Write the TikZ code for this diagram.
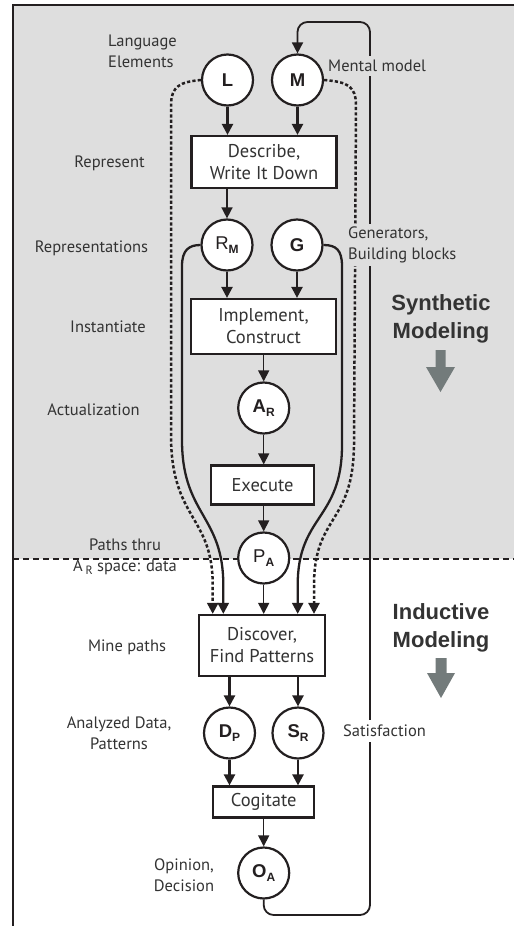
\documentclass[tikz,border=0pt]{standalone}
\usepackage{fontspec}
\setmainfont{PT Sans}
\newfontfamily\hvfont{Liberation Sans}
\usetikzlibrary{arrows.meta}
\definecolor{bggray}{HTML}{DEDEDE}
\definecolor{ink}{HTML}{231F20}
\definecolor{txt}{HTML}{333333}
\definecolor{arrgray}{HTML}{737B7B}
\newcommand\mysub[1]{\raisebox{-3.5pt}{\fontsize{12}{12}\selectfont\bfseries #1}}
\begin{document}
\begin{tikzpicture}[x=1pt,y=-1pt,
  circ/.style={circle, draw=ink, line width=2.2pt, fill=white, minimum size=51pt, inner sep=0pt,
    font=\hvfont\bfseries\fontsize{18.5}{18.5}\selectfont, text=ink},
  boxn/.style={rectangle, draw=ink, line width=2.2pt, fill=white, inner sep=0pt, align=center,
    font=\fontsize{18.5}{22}\selectfont, text=txt},
  lbl/.style={font=\fontsize{16.5}{21}\selectfont, text=txt, inner sep=1pt},
  bglbl/.style={lbl, fill=bggray, inner xsep=1pt, inner ysep=4pt},
  tip/.style={-{Triangle[length=11pt,width=11pt]}},
  thk/.style={draw=ink, line width=2.3pt, tip},
  thn/.style={draw=ink, line width=1.5pt, tip},
  dsh/.style={draw=ink, line width=2.5pt, dash pattern=on 3.2pt off 2.2pt, tip},
  title/.style={font=\hvfont\bfseries\fontsize{22}{28}\selectfont, text=txt, align=center},
]
\useasboundingbox (0,0) rectangle (514,926);
% background
\fill[bggray] (13,5) rectangle (514,559);
\draw[ink, line width=1.3pt, dash pattern=on 6pt off 4pt] (13,559) -- (514,559);
\draw[ink, line width=2.4pt] (514,5) -- (13,5) -- (13,926);

% nodes
\node[circ] (L) at (227.5,80) {L};
\node[circ] (M) at (297.5,80) {M};
\node[boxn, minimum width=145pt, minimum height=52pt] (D) at (264,162) {Describe,\\Write It Down};
\node[circ] (RM) at (227,245) {\mdseries R\mysub{M}};
\node[circ] (G) at (297,245) {G};
\node[boxn, minimum width=145pt, minimum height=55pt] (I) at (263.5,326.5) {Implement,\\Construct};
\node[circ] (AR) at (263.7,408) {A\mysub{R}};
\node[boxn, minimum width=103pt, minimum height=39pt] (E) at (262.5,485) {Execute};
\node[circ] (PA) at (263.7,558) {\mdseries P\mysub{A}};
\node[boxn, minimum width=126pt, minimum height=61pt] (F) at (262,645.5) {Discover,\\Find Patterns};
\node[circ] (DP) at (229.5,733) {D\mysub{P}};
\node[circ] (SR) at (298,733) {S\mysub{R}};
\node[boxn, minimum width=101pt, minimum height=31pt] (C) at (263.7,802) {Cogitate};
\node[circ] (OA) at (263.7,873) {O\mysub{A}};

\path (F.north) ++(-49.3,0) coordinate (f1);
\path (F.north) ++(-38.7,0) coordinate (f2);
\path (F.north) ++(35.7,0) coordinate (f4);
\path (F.north) ++(52,0) coordinate (f5);

% straight connectors
\draw[thk] (L.south) -- (L.south |- D.north);
\draw[thk] (M.south) -- (M.south |- D.north);
\draw[thn] (D.south -| RM) -- (RM.north);
\draw[thk] (RM.south) -- (RM.south |- I.north);
\draw[thk] (G.south) -- (G.south |- I.north);
\draw[thn] (I.south -| AR) -- (AR.north);
\draw[thn] (AR.south) -- (AR.south |- E.north);
\draw[thn] (E.south -| PA) -- (PA.north);
\draw[thn] (PA.south) -- (PA.south |- F.north);
\draw[thk] (F.south -| DP) -- (DP.north);
\draw[thk] (F.south -| SR) -- (SR.north);
\draw[thk] (DP.south) -- (DP.south |- C.north);
\draw[thk] (SR.south) -- (SR.south |- C.north);
\draw[thn] (C.south -| OA) -- (OA.north);

% curved connectors
\draw[dsh] (L.west) .. controls (180,82) and (171,86) .. (171,106) -- (171,435)
  .. controls (171,520) and (212.7,515) .. (212.7,585) -- (f1);
\draw[thk] (RM.west) .. controls (189,245) and (182,250) .. (182,266) -- (182,440)
  .. controls (182,515) and (223.3,515) .. (223.3,585) -- (f2);
\draw[thk] (G.east) .. controls (336,245) and (342,250) .. (342,266) -- (342,445)
  .. controls (342,520) and (297.7,515) .. (297.7,585) -- (f4);
\draw[dsh] (M.east) .. controls (348,82) and (356,86) .. (356,106) -- (354,445)
  .. controls (353,525) and (314,515) .. (314,585) -- (f5);

% feedback loop
\draw[ink, line width=1.8pt, rounded corners=10pt, tip] (OA.south) |- (370,915) -- (370,22) -| (M.north);

% labels
\node[lbl, anchor=west, align=left] (lLE) at (107,51) {Language\\Elements};
\node[bglbl, anchor=west] (lMM) at (327,66) {Mental model};
\node[lbl] (lRep) at (109.5,163) {Represent};
\node[lbl] (lRps) at (91.5,248) {Representations};
\node[bglbl, anchor=west, align=left, inner ysep=3pt] (lGen) at (347,245) {Generators,\\Building blocks};
\node[lbl] (lIns) at (108,327) {Instantiate};
\node[lbl] (lAct) at (93.5,410) {Actualization};
\node[lbl, align=center] (lPth) at (125,557) {Paths thru\\A\,\raisebox{-3pt}{\fontsize{12}{12}\selectfont R} space: data};
\node[lbl] (lMin) at (127,647) {Mine paths};
\node[lbl, align=center] (lAna) at (119,733) {Analyzed Data,\\Patterns};
\node[lbl, anchor=west, fill=white, inner ysep=5pt] (lSat) at (342,731) {Satisfaction};
\node[lbl, align=center] (lOpi) at (184,875) {Opinion,\\Decision};

\node[title] (tSyn) at (441,319) {Synthetic\\Modeling};
\node[title] (tInd) at (441,628) {Inductive\\Modeling};
\fill[arrgray] (435.5,350) -- (445.5,350) -- (445.5,367) -- (455,367) -- (440.5,392) -- (426,367) -- (435.5,367) -- cycle;
\fill[arrgray] (435.5,658) -- (446.5,658) -- (446.5,673) -- (455,673) -- (441,698) -- (427,673) -- (435.5,673) -- cycle;
\end{tikzpicture}
\end{document}
